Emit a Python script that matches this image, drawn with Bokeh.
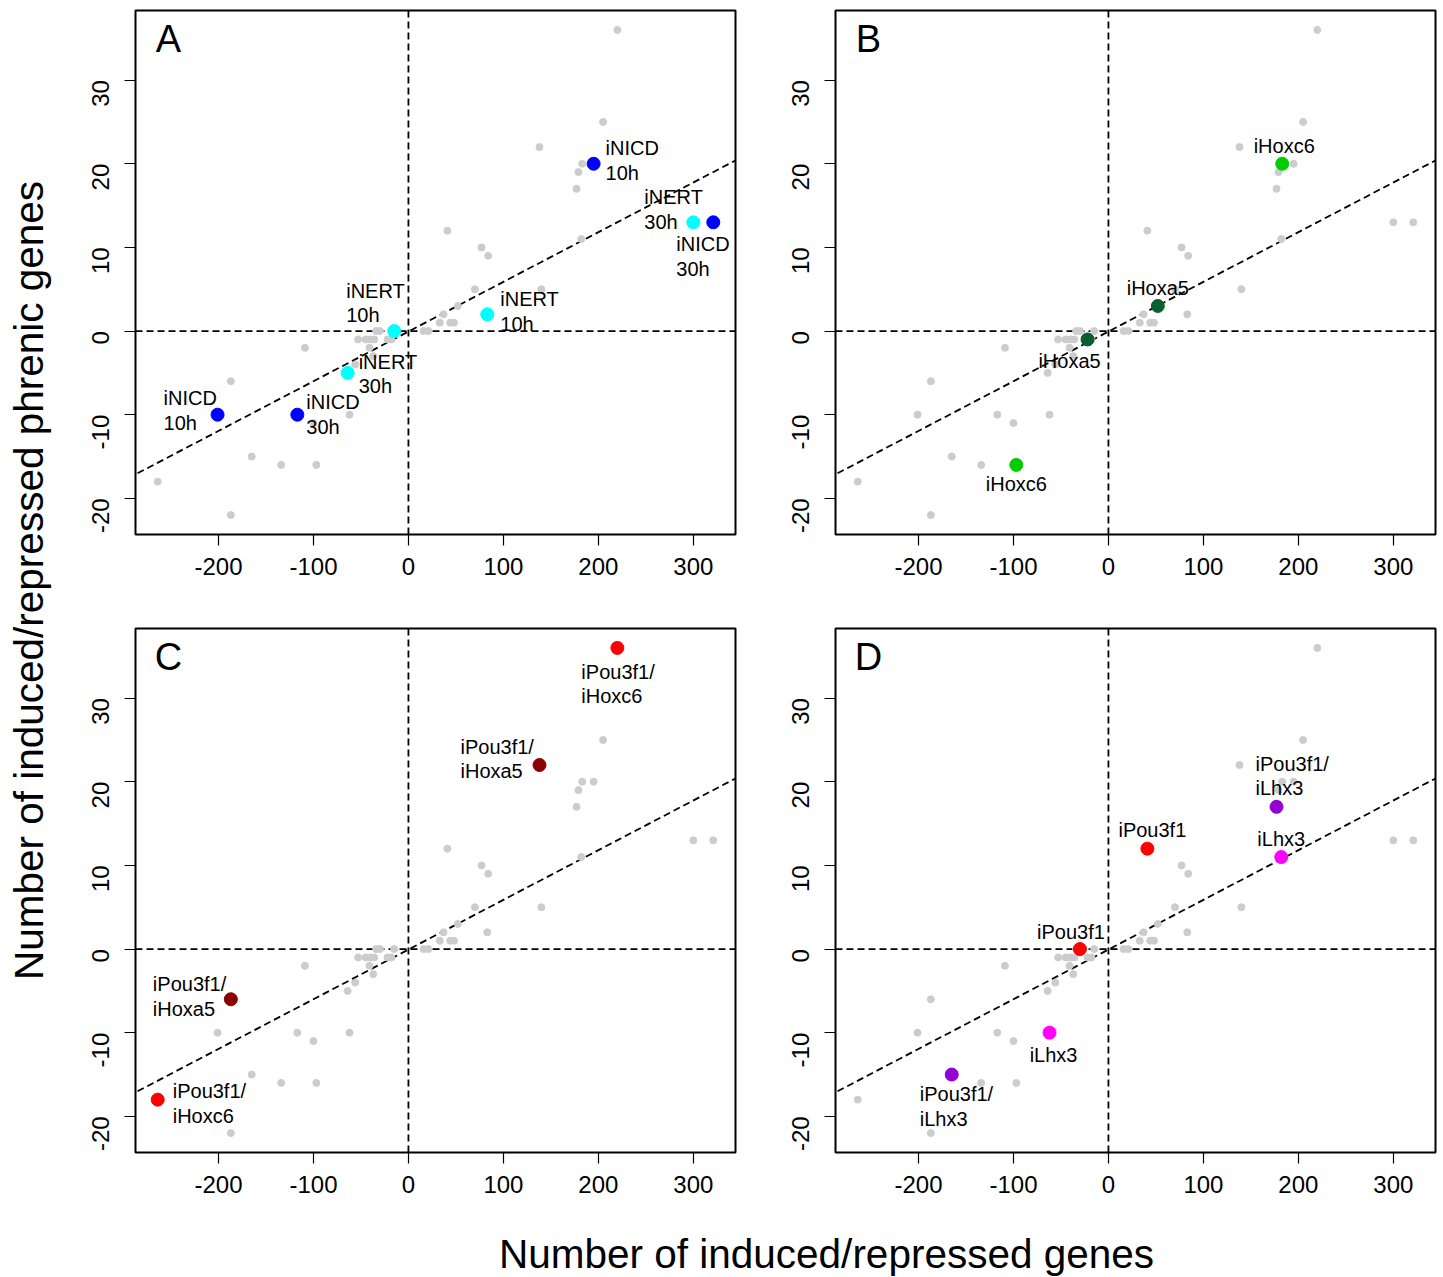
import math
from bokeh.plotting import figure
from bokeh.models import Range1d, FixedTicker, Span, Slope, Label
from bokeh.layouts import row, column
from bokeh.embed import file_html
from bokeh.resources import INLINE
from bokeh.core.properties import value

# ---------------- data (x: induced/repressed genes, y: induced/repressed phrenic genes)
A_LABEL = ["iNICD\n10h", "iNERT\n30h", "iNICD\n30h", "iNERT\n10h",
           "iNERT\n10h", "iNERT\n30h", "iNICD\n10h", "iNICD\n30h"]
A_X = [195, 300, 321, 83, -15, -64, -201, -117]
A_Y = [20, 13, 13, 2, 0, -5, -10, -10]

B_LABEL = ["iHoxc6", "iHoxa5", "iHoxa5", "iHoxc6"]
B_X = [183, 52, -22, -97]
B_Y = [20, 3, -1, -16]

C_LABEL = ["iPou3f1/\niHoxc6", "iPou3f1/\niHoxa5", "iPou3f1/\niHoxa5", "iPou3f1/\niHoxc6"]
C_X = [220, 138, -187, -264]
C_Y = [36, 22, -6, -18]

D_LABEL = ["iPou3f1", "iPou3f1/\niLhx3", "iLhx3", "iPou3f1", "iLhx3", "iPou3f1/\niLhx3"]
D_X = [41, 177, 182, -30, -62, -165]
D_Y = [12, 17, 11, 0, -10, -15]

OTHER_X = [205, 179, 77, 84, 70, 140, 37, 33, 44, 48, 16, 21, -34,
           -53, -45, -40, -36, -18, -41, -37, -56, -109, -100, -134, -187]
OTHER_Y = [25, 19, 10, 9, 5, 5, 2, 1, 1, 1, 0, 0, 0,
           -1, -1, -1, -1, -1, -2, -3, -4, -2, -11, -16, -22]

X_TICKS = [-200, -100, 0, 100, 200, 300]
Y_TICKS = [-20, -10, 0, 10, 20, 30]
FIT_SLOPE = 0.0594
FIT_INTERCEPT = -0.06

# ---------------- styles
A_COLOR = ["#0000ff", "#00ffff", "#0000ff", "#00ffff", "#00ffff", "#00ffff", "#0000ff", "#0000ff"]
B_COLOR = ["#00cd00", "#0a5e30", "#0a5e30", "#00cd00"]
C_COLOR = ["#ff0000", "#8b0000", "#8b0000", "#ff0000"]
D_COLOR = ["#ff0000", "#9400d3", "#ff00ff", "#ff0000", "#ff00ff", "#9400d3"]
# label placement: (align, dx px, dy px to block centre)
A_POS = [("left", 12, -3), ("left", -49, -13), ("left", -37, 34), ("left", 13, -3),
         ("left", -48, -28), ("left", 11, 1), ("left", -54, -4), ("left", 9, 0)]
B_POS = [("center", 2, -18), ("center", 0, -18), ("center", -18, 22), ("center", 0, 19)]
C_POS = [("left", -36, 36), ("left", -79, -6), ("left", -78, -3), ("left", 15, 4)]
D_POS = [("center", 5, -19), ("left", -21, -31), ("center", 0, -18),
         ("center", -9, -17), ("center", 4, 22), ("left", -32, 32)]

FONT = "Liberation Sans"
GRAY_X = A_X + B_X + C_X + D_X + OTHER_X
GRAY_Y = A_Y + B_Y + C_Y + D_Y + OTHER_Y
xpad = 0.04 * (max(GRAY_X) - min(GRAY_X))
ypad = 0.04 * (max(GRAY_Y) - min(GRAY_Y))
XR = (min(GRAY_X) - xpad, max(GRAY_X) + xpad)
YR = (min(GRAY_Y) - ypad, max(GRAY_Y) + ypad)

FRAME_W, FRAME_H = 600, 524


def panel(letter, xs, ys, labels, colors, pos, left, right, top, bottom):
    p = figure(width=left + FRAME_W + right, height=top + FRAME_H + bottom,
               x_range=Range1d(*XR), y_range=Range1d(*YR),
               output_backend="svg", toolbar_location=None,
               min_border_left=left, min_border_right=right,
               min_border_top=top, min_border_bottom=bottom)
    p.grid.visible = False
    p.outline_line_color = "black"
    p.outline_line_width = 2
    p.background_fill_color = "white"
    p.border_fill_color = "white"
    for ax, ticks in ((p.xaxis[0], X_TICKS), (p.yaxis[0], Y_TICKS)):
        ax.ticker = FixedTicker(ticks=ticks)
        ax.major_label_overrides = {t: str(t) for t in ticks}
        ax.axis_line_color = None
        ax.major_tick_line_color = "black"
        ax.major_tick_line_width = 1.2
        ax.major_tick_out = 11
        ax.major_tick_in = 0
        ax.minor_tick_line_color = None
        ax.major_label_text_font = FONT
        ax.major_label_text_font_size = "24px"
        ax.major_label_text_color = "black"
    p.xaxis.major_label_standoff = 12
    p.yaxis.major_label_standoff = 24
    p.yaxis.major_label_orientation = math.pi / 2

    dash = dict(line_color="black", line_width=1.8, line_dash="7 4", level="underlay")
    p.add_layout(Span(location=0, dimension="height", **dash))
    p.add_layout(Span(location=0, dimension="width", **dash))
    p.add_layout(Slope(gradient=FIT_SLOPE, y_intercept=FIT_INTERCEPT, **dash))

    p.scatter(GRAY_X, GRAY_Y, size=7, fill_color="#cccccc", line_color="#cccccc")
    p.scatter(xs, ys, size=13, fill_color=colors, line_color=colors)

    for align in ("left", "center"):
        idx = [i for i, q in enumerate(pos) if q[0] == align]
        if not idx:
            continue
        p.text(x=[xs[i] for i in idx], y=[ys[i] for i in idx],
               text=[labels[i] for i in idx],
               x_offset=[pos[i][1] for i in idx], y_offset=[pos[i][2] for i in idx],
               text_align=align, text_baseline="middle",
               text_font=value(FONT), text_font_size="20px",
               text_line_height=1.12, text_color="black")

    lx = XR[0] + 33 / FRAME_W * (XR[1] - XR[0])
    ly = YR[1] - 28 / FRAME_H * (YR[1] - YR[0])
    p.add_layout(Label(x=lx, y=ly, text=letter, text_align="center",
                       text_baseline="middle", text_font=FONT,
                       text_font_size="38px", text_color="black"))
    return p


pA = panel("A", A_X, A_Y, A_LABEL, A_COLOR, A_POS, 75, 20, 10, 64)
pB = panel("B", B_X, B_Y, B_LABEL, B_COLOR, B_POS, 80, 8, 10, 64)
pC = panel("C", C_X, C_Y, C_LABEL, C_COLOR, C_POS, 75, 20, 30, 63)
pD = panel("D", D_X, D_Y, D_LABEL, D_COLOR, D_POS, 80, 8, 30, 63)


def title_fig(w, h, text, x, y, angle):
    f = figure(width=w, height=h, x_range=Range1d(0, w), y_range=Range1d(0, h),
               output_backend="svg", toolbar_location=None,
               min_border=0)
    f.axis.visible = False
    f.grid.visible = False
    f.outline_line_color = None
    f.add_layout(Label(x=x, y=y, text=text, angle=angle, text_align="center",
                       text_baseline="middle", text_font=FONT,
                       text_font_size="40.5px", text_color="black"))
    return f


grid_h = pA.height + pC.height
yfig = title_fig(60, grid_h, "Number of induced/repressed phrenic genes", 28, grid_h - 580, math.pi / 2)
xfig = title_fig(1443, 62, "Number of induced/repressed genes", 826, 24, 0)

layout = column(row(yfig, column(row(pA, pB), row(pC, pD))), xfig)
open("out.html", "w").write(file_html(layout, INLINE))
